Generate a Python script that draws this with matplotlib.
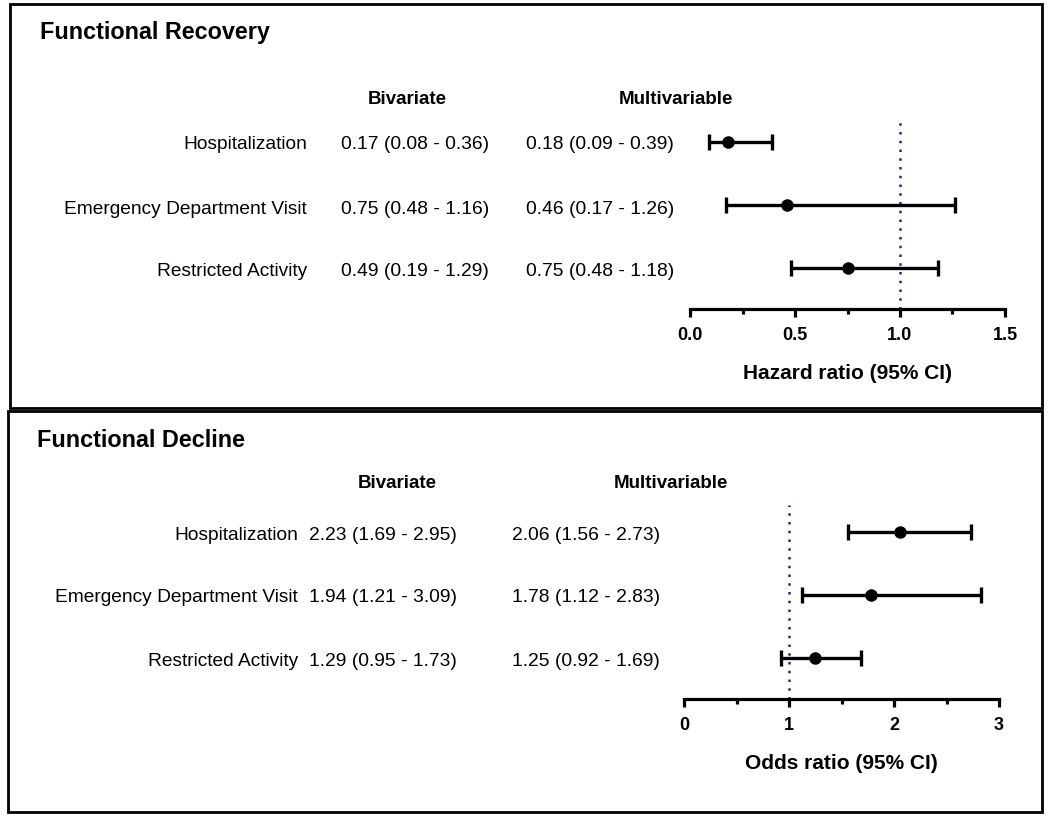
import matplotlib
matplotlib.use("Agg")
import matplotlib.pyplot as plt
from matplotlib.patches import Rectangle
from matplotlib.ticker import MultipleLocator

plt.rcParams['font.family'] = ['Liberation Sans', 'DejaVu Sans']

# Datos
outcomes = ["Hospitalization", "Emergency Department Visit", "Restricted Activity"]

rec_bivariate = ["0.17 (0.08 - 0.36)", "0.75 (0.48 - 1.16)", "0.49 (0.19 - 1.29)"]
rec_multi = ["0.18 (0.09 - 0.39)", "0.46 (0.17 - 1.26)", "0.75 (0.48 - 1.18)"]
rec_est = [0.18, 0.46, 0.75]
rec_lo = [0.09, 0.17, 0.48]
rec_hi = [0.39, 1.26, 1.18]

dec_bivariate = ["2.23 (1.69 - 2.95)", "1.94 (1.21 - 3.09)", "1.29 (0.95 - 1.73)"]
dec_multi = ["2.06 (1.56 - 2.73)", "1.78 (1.12 - 2.83)", "1.25 (0.92 - 1.69)"]
dec_est = [2.06, 1.78, 1.25]
dec_lo = [1.56, 1.12, 0.92]
dec_hi = [2.73, 2.83, 1.69]

W, H = 1050, 820
fig = plt.figure(figsize=(W / 100, H / 100), dpi=100)

def fx(x):
    return x / W
def fy(y):
    return 1 - y / H

def panel(box, title, title_xy, head_y, bi_x, mu_x, bi_hx, mu_hx, lab_x, rows_y,
          ax_left, ax_right, ax_top, ax_bottom, bi, mu, est, lo, hi,
          xmax, major, minor, fmt, xlabel):
    x0, y0, x1, y1 = box
    fig.patches.append(Rectangle((fx(x0), fy(y1)), fx(x1 - x0), (y1 - y0) / H,
                                 transform=fig.transFigure, fill=False,
                                 edgecolor="black", linewidth=2))
    fig.text(fx(title_xy[0]), fy(title_xy[1] + 1), title, fontsize=16.8,
             fontweight="bold", ha="left", va="center")
    fig.text(fx(bi_hx), fy(head_y + 2), "Bivariate", fontsize=13.5, fontweight="bold",
             ha="center", va="center")
    fig.text(fx(mu_hx), fy(head_y + 2), "Multivariable", fontsize=13.5, fontweight="bold",
             ha="center", va="center")
    for i in range(len(outcomes)):
        ty = fy(rows_y[i] + 2)
        fig.text(fx(lab_x), ty, outcomes[i], fontsize=13.8, ha="right", va="center")
        fig.text(fx(bi_x), ty, bi[i], fontsize=13.9, ha="center", va="center")
        fig.text(fx(mu_x), ty, mu[i], fontsize=13.9, ha="center", va="center")

    ax = fig.add_axes([fx(ax_left), fy(ax_bottom), fx(ax_right - ax_left),
                       (ax_bottom - ax_top) / H])
    # filas: y = 2, 1, 0
    ys = [2, 1, 0]
    spacing = rows_y[1] - rows_y[0]
    ylo = -(ax_bottom - rows_y[2]) / spacing
    yhi = 2 + (rows_y[0] - ax_top) / spacing
    ax.axvline(1, color="#262680", linestyle=(0, (1, 2.5)), linewidth=1.8, zorder=1)
    xerr = [[e - l for e, l in zip(est, lo)], [h - e for e, h in zip(est, hi)]]
    ax.errorbar(est, ys, xerr=xerr, fmt="o", color="black", markersize=8,
                elinewidth=2.4, capsize=6, capthick=2.4, zorder=3)
    ax.set_xlim(0, xmax)
    ax.set_ylim(ylo, yhi)
    for s in ["top", "right", "left"]:
        ax.spines[s].set_visible(False)
    ax.spines["bottom"].set_linewidth(2.3)
    ax.spines["bottom"].set_bounds(0, xmax)
    ax.set_yticks([])
    ax.xaxis.set_major_locator(MultipleLocator(major))
    ax.xaxis.set_minor_locator(MultipleLocator(minor))
    ax.tick_params(axis="x", which="major", direction="out", length=6, width=2.3,
                   pad=6, labelsize=13)
    ax.tick_params(axis="x", which="minor", direction="out", length=3.5, width=2.3)
    ax.set_xticklabels([fmt(t) for t in ax.get_xticks()], fontweight="bold")
    ax.set_xlabel(xlabel, fontsize=15, fontweight="bold", labelpad=15)
    ax.patch.set_alpha(0)
    return ax

panel((10, 5, 1042, 409), "Functional Recovery", (40, 32), 98, 415, 600, 407, 676,
      307, [143, 207, 269], 690, 1005, 118, 310,
      rec_bivariate, rec_multi, rec_est, rec_lo, rec_hi,
      1.5, 0.5, 0.25, lambda t: f"{t:.1f}", "Hazard ratio (95% CI)")

panel((8, 412, 1042, 813), "Functional Decline", (37, 440), 482, 383, 586, 397, 671,
      298, [533, 596, 659], 684, 999, 506, 700,
      dec_bivariate, dec_multi, dec_est, dec_lo, dec_hi,
      3, 1, 0.5, lambda t: f"{t:.0f}", "Odds ratio (95% CI)")

fig.savefig("out.png", dpi=100)
